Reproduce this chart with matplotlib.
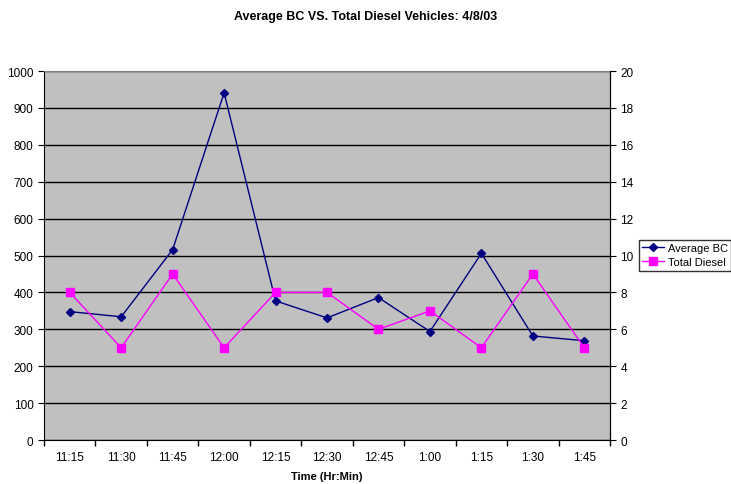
import matplotlib
matplotlib.use("Agg")
import matplotlib.pyplot as plt
import numpy as np

plt.rcParams['font.family'] = ['Liberation Sans', 'DejaVu Sans']

times = ["11:15", "11:30", "11:45", "12:00", "12:15", "12:30", "12:45", "1:00", "1:15", "1:30", "1:45"]
avg_bc = [348, 334, 516, 941, 377, 331, 386, 294, 506, 282, 269]
total_diesel = [8, 5, 9, 5, 8, 8, 6, 7, 5, 9, 5]

fig = plt.figure(figsize=(7.31, 4.85), dpi=100)
ax = fig.add_axes([0.0602, 0.0907, 0.7743, 0.7608])
ax2 = ax.twinx()

x = np.arange(len(times))
ax.set_facecolor('#C0C0C0')
l1, = ax.plot(x, avg_bc, color='#000080', marker='D', markersize=4, linewidth=1, label='Average BC')
l2, = ax2.plot(x, total_diesel, color='#FF00FF', marker='s', markersize=5.5, linewidth=1, label='Total Diesel')

ax.set_ylim(0, 1000)
ax.set_yticks(np.arange(0, 1001, 100))
ax2.set_ylim(0, 20)
ax2.set_yticks(np.arange(0, 21, 2))
ax.set_xlim(-0.5, len(times) - 0.5)
ax.set_xticks(x)
ax.set_xticklabels(times)
ax.set_xticks(np.arange(-0.5, len(times), 1), minor=True)
ax.tick_params(axis='x', which='major', length=0, labelsize=8.5, pad=8)
ax.tick_params(axis='x', which='minor', length=4, direction='out', width=1)
ax.tick_params(axis='y', labelsize=8.5, length=4, direction='out')
ax2.tick_params(axis='y', labelsize=8.5, length=4, direction='out')

ax.grid(axis='y', color='black', linewidth=1)
ax.set_axisbelow(True)
ax.spines['top'].set_color('#808080')
ax.spines['left'].set_color('black')
ax.spines['bottom'].set_color('black')
ax2.spines['right'].set_color('black')
ax2.spines['left'].set_visible(False)
ax2.spines['bottom'].set_visible(False)
ax2.spines['top'].set_visible(False)

ax.set_xlabel('Time (Hr:Min)', fontsize=8, fontweight='bold', labelpad=6)
fig.suptitle('Average BC VS. Total Diesel Vehicles: 4/8/03', fontsize=9, fontweight='bold', x=0.5, y=0.978)

leg = fig.legend(handles=[l1, l2], loc='upper left', bbox_to_anchor=(0.874, 0.503),
                 fontsize=8, frameon=True, fancybox=False, edgecolor='black',
                 borderpad=0.3, handlelength=2.0, labelspacing=0.35, handletextpad=0.3,
                 borderaxespad=0)
leg.get_frame().set_linewidth(1)

fig.savefig('out.png', dpi=100)
